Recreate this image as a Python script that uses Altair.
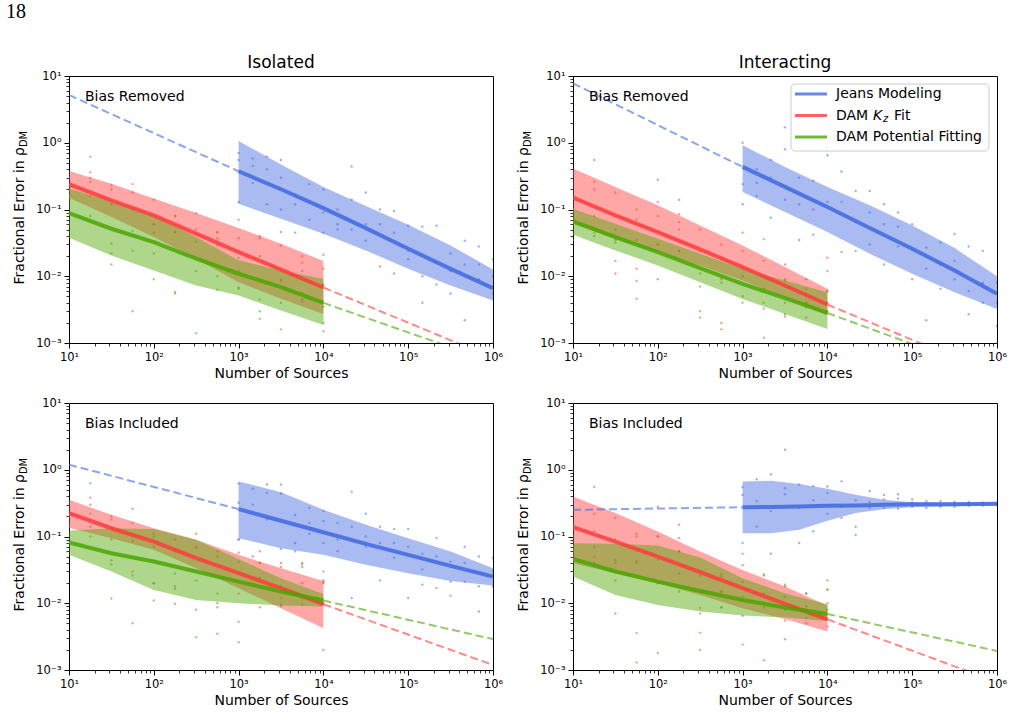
import altair as alt
import pandas as pd

FONT = "DejaVu Sans"
BLUE = "#4169e1"
RED = "#ff3b3b"
GREEN = "#4ba600"

# ---------------- sample grids ----------------
DAM_N = [10, 31.6, 100, 316, 1000, 3162, 10000]
JEANS_N = [1000, 3162, 10000, 31623, 100000, 316228, 1000000]
JEANS_N_BR = [1000, 2154, 4642, 10000, 21544, 46416, 100000, 316228, 1000000]
PT_DAM_N = [10, 17.8, 31.6, 56.2, 100, 178, 316, 562, 1000, 1778, 3162, 5623, 10000]
PT_JEANS_N = [1000, 1468, 2154, 3162, 4642, 6813, 10000, 14678, 21544, 31623,
              46416, 68129, 100000, 146780, 215443, 316228, 464159, 681292, 1000000]
FIT_LEFT_N = [10, 1000]
FIT_RIGHT_N = [10000, 1000000]

X_MAJOR = [10, 100, 1000, 10000, 100000, 1000000]
Y_MAJOR = [0.001, 0.01, 0.1, 1, 10]
X_MINOR = [m * 10 ** k for k in range(1, 6) for m in range(2, 10)]
Y_MINOR = [m * 10.0 ** k for k in range(-3, 1) for m in range(2, 10)]
SUPERSCRIPTS = ["⁻³", "⁻²", "⁻¹", "⁰", "¹", "²", "³", "⁴", "⁵", "⁶"]

# ---------------- Isolated, bias removed ----------------
TL_KZ_MED = [0.239, 0.137, 0.0817, 0.0434, 0.0230, 0.0126, 0.00678]
TL_KZ_HI = [0.378, 0.244, 0.146, 0.0885, 0.0527, 0.0307, 0.0169]
TL_KZ_LO = [0.150, 0.077, 0.0386, 0.0183, 0.0081, 0.0046, 0.00273]
TL_POT_MED = [0.0885, 0.0515, 0.0325, 0.0183, 0.0109, 0.00686, 0.00399]
TL_POT_HI = [0.206, 0.133, 0.0817, 0.0386, 0.0173, 0.0122, 0.00914]
TL_POT_LO = [0.0378, 0.0205, 0.0122, 0.00726, 0.00514, 0.00306, 0.00186]
TL_J_MED = [0.374, 0.201, 0.105, 0.0527, 0.0258, 0.0129, 0.00662]
TL_J_HI = [1.06, 0.471, 0.218, 0.113, 0.0592, 0.029, 0.0126]
TL_J_LO = [0.122, 0.0728, 0.0434, 0.0244, 0.0129, 0.00726, 0.00432]
TL_J_FIT = [5.19, 0.374]
TL_KZ_FIT = [0.00678, 0.00060]
TL_POT_FIT = [0.00399, 0.00052]
TL_KZ_PTS = [[0.58, 0.30, 0.16], [0.36, 0.30, 0.26], [0.23, 0.20, 0.12], [0.24, 0.18, 0.10],
             [0.14, 0.06, 0.045], [0.08, 0.046, 0.0058], [0.087, 0.05, 0.043], [0.046, 0.037, 0.029],
             [0.07, 0.037, 0.0068], [0.04, 0.037, 0.0023], [0.046, 0.029, 0.0085],
             [0.02, 0.016, 0.0045], [0.021, 0.013, 0.0015]]
TL_POT_PTS = [[0.2, 0.15, 0.06], [0.62, 0.16, 0.08], [0.031, 0.022, 0.015], [0.048, 0.024, 0.003],
              [0.06, 0.022, 0.009], [0.08, 0.046, 0.0055], [0.033, 0.012, 0.0014], [0.045, 0.01, 0.0063],
              [0.019, 0.012, 0.0065], [0.02, 0.0045, 0.003], [0.009, 0.004, 0.0016],
              [0.012, 0.0055, 0.0042], [0.0075, 0.0035, 0.002]]
TL_J_PTS = [[0.7, 0.55, 0.13], [0.58, 0.45, 0.25], [0.62, 0.4, 0.12], [0.55, 0.3, 0.1],
            [0.17, 0.12, 0.045], [0.24, 0.13, 0.07], [0.2, 0.09, 0.045], [0.1, 0.06, 0.05],
            [0.44, 0.14, 0.05], [0.18, 0.06, 0.034], [0.1, 0.06, 0.014], [0.095, 0.045, 0.011],
            [0.057, 0.024, 0.018], [0.055, 0.01, 0.004], [0.057, 0.016, 0.0075],
            [0.022, 0.012, 0.0055], [0.034, 0.015, 0.0022], [0.028, 0.015, 0.009],
            [0.018, 0.01, 0.0055]]

# ---------------- Interacting, bias removed ----------------
TR_KZ_MED = [0.151, 0.0817, 0.0459, 0.0252, 0.0137, 0.00726, 0.00377]
TR_KZ_HI = [0.41, 0.218, 0.116, 0.0578, 0.029, 0.0137, 0.00647]
TR_KZ_LO = [0.0612, 0.0365, 0.023, 0.0145, 0.00863, 0.00485, 0.00258]
TR_POT_MED = [0.0664, 0.0386, 0.023, 0.0132, 0.00769, 0.00469, 0.00282]
TR_POT_HI = [0.103, 0.0612, 0.0365, 0.0217, 0.0129, 0.00863, 0.00577]
TR_POT_LO = [0.0419, 0.0244, 0.0145, 0.00815, 0.00458, 0.00273, 0.00162]
TR_J_MED = [0.435, 0.218, 0.109, 0.0527, 0.0258, 0.0122, 0.00545]
TR_J_HI = [0.92, 0.435, 0.218, 0.116, 0.0578, 0.0264, 0.0100]
TR_J_LO = [0.183, 0.0917, 0.0459, 0.0217, 0.0109, 0.00577, 0.00324]
TR_J_FIT = [7.76, 0.435]
TR_KZ_FIT = [0.00377, 0.00033]
TR_POT_FIT = [0.00282, 0.00033]
TR_KZ_PTS = [[0.95, 0.35, 0.1], [0.55, 0.26, 0.2], [0.18, 0.017, 0.011], [0.07, 0.013, 0.0046],
             [0.28, 0.13, 0.03], [0.14, 0.085, 0.024], [0.05, 0.024, 0.0024], [0.03, 0.009, 0.0016],
             [0.045, 0.024, 0.01], [0.036, 0.0065, 0.0033], [0.015, 0.009, 0.0025],
             [0.0065, 0.004, 0.0024], [0.019, 0.006, 0.004]]
TR_POT_PTS = [[0.1, 0.06, 0.035], [0.08, 0.045, 0.04], [0.05, 0.035, 0.032], [0.1, 0.035, 0.0085],
              [0.08, 0.03, 0.009], [0.065, 0.05, 0.024], [0.011, 0.007, 0.003], [0.018, 0.008, 0.002],
              [0.013, 0.005, 0.004], [0.017, 0.004, 0.0012], [0.0085, 0.004, 0.0027],
              [0.009, 0.004, 0.0034], [0.012, 0.006, 0.003]]
TR_J_PTS = [[1.0, 0.24, 0.12], [0.4, 0.25, 0.16], [0.55, 0.3, 0.075], [1.7, 0.8, 0.14],
            [0.3, 0.12, 0.035], [0.27, 0.1, 0.042], [0.85, 0.65, 0.13], [0.37, 0.13, 0.023],
            [0.19, 0.065, 0.024], [0.19, 0.09, 0.03], [0.12, 0.06, 0.015], [0.09, 0.055, 0.028],
            [0.06, 0.025, 0.009], [0.027, 0.013, 0.0022], [0.032, 0.015, 0.0065],
            [0.043, 0.017, 0.009], [0.028, 0.006, 0.0027], [0.024, 0.008, 0.004],
            [0.008, 0.004, 0.0018]]

# ---------------- Isolated, bias included ----------------
BL_KZ_MED = [0.224, 0.133, 0.0841, 0.0473, 0.0282, 0.0168, 0.00966]
BL_KZ_HI = [0.355, 0.211, 0.133, 0.0891, 0.0531, 0.0335, 0.0216]
BL_KZ_LO = [0.135, 0.094, 0.0631, 0.0335, 0.0168, 0.00841, 0.00422]
BL_POT_MED = [0.0813, 0.0562, 0.0422, 0.0299, 0.0211, 0.015, 0.011]
BL_POT_HI = [0.123, 0.133, 0.129, 0.0891, 0.0462, 0.0237, 0.0138]
BL_POT_LO = [0.0531, 0.0299, 0.0158, 0.0112, 0.0100, 0.00923, 0.00891]
BL_J_MED = [0.257, 0.172, 0.116, 0.0776, 0.0531, 0.0363, 0.0251]
BL_J_HI = [0.668, 0.462, 0.251, 0.15, 0.0944, 0.0596, 0.0335]
BL_J_LO = [0.0944, 0.0668, 0.0531, 0.0376, 0.0282, 0.0216, 0.0184]
BL_J_FIT = [1.19, 0.257]
BL_KZ_FIT = [0.00966, 0.00119]
BL_POT_FIT = [0.0110, 0.0029]
BL_KZ_PTS = [[0.6, 0.2, 0.15], [0.38, 0.3, 0.14], [0.2, 0.18, 0.09], [0.26, 0.16, 0.03],
             [0.11, 0.07, 0.02], [0.06, 0.018, 0.0098], [0.11, 0.07, 0.008], [0.06, 0.01, 0.0035],
             [0.09, 0.057, 0.014], [0.06, 0.04, 0.023], [0.04, 0.035, 0.009],
             [0.04, 0.035, 0.02], [0.022, 0.02, 0.002]]
BL_POT_PTS = [[0.2, 0.14, 0.08], [0.63, 0.22, 0.1], [0.044, 0.038, 0.0118], [0.085, 0.026, 0.005],
              [0.1, 0.02, 0.011], [0.09, 0.028, 0.0165], [0.067, 0.022, 0.0031], [0.05, 0.014, 0.0087],
              [0.042, 0.0053, 0.0026], [0.04, 0.024, 0.0087], [0.018, 0.012, 0.0095],
              [0.038, 0.012, 0.0095], [0.03, 0.021, 0.01]]
BL_J_PTS = [[0.62, 0.32, 0.09], [0.52, 0.3, 0.05], [0.6, 0.45, 0.18], [0.6, 0.44, 0.065],
            [0.21, 0.08, 0.06], [0.27, 0.16, 0.11], [0.24, 0.17, 0.08], [0.16, 0.09, 0.06],
            [0.47, 0.14, 0.012], [0.22, 0.1, 0.07], [0.14, 0.08, 0.022], [0.13, 0.08, 0.048],
            [0.13, 0.07, 0.012], [0.055, 0.032, 0.019], [0.095, 0.05, 0.017],
            [0.042, 0.021, 0.013], [0.07, 0.04, 0.021], [0.05, 0.018, 0.0075],
            [0.048, 0.03, 0.018]]

# ---------------- Interacting, bias included ----------------
BR_KZ_MED = [0.138, 0.0841, 0.0501, 0.0292, 0.0168, 0.00977, 0.00575]
BR_KZ_HI = [0.398, 0.224, 0.119, 0.0596, 0.0316, 0.0178, 0.00923]
BR_KZ_LO = [0.0398, 0.0282, 0.020, 0.0133, 0.00841, 0.00582, 0.00376]
BR_POT_MED = [0.0462, 0.0299, 0.0211, 0.0153, 0.0112, 0.00861, 0.00692]
BR_POT_HI = [0.0794, 0.0776, 0.0733, 0.0484, 0.0237, 0.0141, 0.00966]
BR_POT_LO = [0.0251, 0.0133, 0.00944, 0.0075, 0.00653, 0.0061, 0.00543]
BR_J_MED = [0.275, 0.277, 0.282, 0.288, 0.291, 0.299, 0.305, 0.305, 0.309]
BR_J_HI = [0.668, 0.684, 0.61, 0.519, 0.422, 0.355, 0.327, 0.324, 0.327]
BR_J_LO = [0.112, 0.112, 0.126, 0.172, 0.224, 0.257, 0.275, 0.285, 0.288]
BR_J_FIT = [0.251, 0.275]
BR_KZ_FIT = [0.00575, 0.00066]
BR_POT_FIT = [0.00692, 0.00193]
BR_KZ_PTS = [[0.95, 0.55, 0.15], [0.55, 0.22, 0.05], [0.19, 0.04, 0.007], [0.1, 0.04, 0.0036],
             [0.28, 0.1, 0.02], [0.15, 0.095, 0.06], [0.03, 0.007, 0.0036], [0.025, 0.015, 0.0087],
             [0.055, 0.037, 0.0065], [0.026, 0.01, 0.0014], [0.018, 0.0055, 0.0029],
             [0.014, 0.008, 0.005], [0.016, 0.01, 0.0045]]
BR_POT_PTS = [[0.1, 0.06, 0.02], [0.12, 0.07, 0.04], [0.09, 0.044, 0.022], [0.11, 0.043, 0.0013],
              [0.1, 0.045, 0.0018], [0.06, 0.028, 0.015], [0.026, 0.0085, 0.002], [0.027, 0.015, 0.0086],
              [0.021, 0.0125, 0.0024], [0.027, 0.014, 0.0087], [0.019, 0.0125, 0.008],
              [0.014, 0.009, 0.006], [0.022, 0.016, 0.008]]
BR_J_PTS = [[0.55, 0.42, 0.08], [0.72, 0.34, 0.14], [0.85, 0.24, 0.055], [2.0, 0.53, 0.43],
            [0.6, 0.27, 0.08], [0.57, 0.35, 0.12], [0.56, 0.45, 0.22], [0.67, 0.28, 0.19],
            [0.35, 0.14, 0.105], [0.48, 0.33, 0.27], [0.42, 0.36, 0.27], [0.43, 0.37, 0.26],
            [0.36, 0.32, 0.28], [0.34, 0.31, 0.27], [0.34, 0.3, 0.28], [0.33, 0.31, 0.28],
            [0.33, 0.31, 0.29], [0.32, 0.31, 0.29], [0.32, 0.31, 0.295]]

# ---------------- helpers ----------------
XS = alt.Scale(type="log", domain=[10, 1e6], nice=False)
YS = alt.Scale(type="log", domain=[1e-3, 10], nice=False)
SUP_EXPR = "'10' + " + str(SUPERSCRIPTS).replace('"', "'") + "[round(log(datum.value)/LN10)+3]"

AX_MAJOR_X = alt.Axis(values=X_MAJOR, labelExpr=SUP_EXPR, title="Number of Sources", orient="bottom",
                      tickSize=5, tickWidth=1, tickColor="black", labelPadding=3, labelFontSize=11.5,
                      labelFont=FONT, labelColor="black", labelFlush=False, labelOverlap=False,
                      titleFont=FONT, titleFontSize=14, titleFontWeight="normal", titleColor="black",
                      titlePadding=4, domain=False, grid=False)
AX_MAJOR_Y = alt.Axis(values=Y_MAJOR, labelExpr=SUP_EXPR, title=None, orient="left",
                      tickSize=5, tickWidth=1, tickColor="black", labelPadding=3, labelFontSize=11.5,
                      labelFont=FONT, labelColor="black", labelFlush=False, labelOverlap=False,
                      labelBaseline="middle", domain=False, grid=False)
AX_MINOR_X = alt.Axis(values=X_MINOR, labels=False, title=None, orient="bottom", tickSize=3,
                      tickWidth=0.8, tickColor="black", domain=False, grid=False)
AX_MINOR_Y = alt.Axis(values=Y_MINOR, labels=False, title=None, orient="left", tickSize=3,
                      tickWidth=0.8, tickColor="black", domain=False, grid=False)

ONE = pd.DataFrame({"k": [0]})


def pts_df(ns, pts):
    return pd.DataFrame([{"n": n, "v": v} for n, vs in zip(ns, pts) for v in vs])


def text(t, x, y, size=14, align="left", baseline="middle", angle=0, style="normal", font=FONT):
    kw = dict(align=align, baseline=baseline, fontSize=size, font=font, color="black",
              fontStyle=style)
    if angle:
        kw["angle"] = angle
    return alt.Chart(ONE).mark_text(**kw).encode(
        x=alt.value(x), y=alt.value(y), text=alt.value(t))


def panel(p, label, title=None, legend=False):
    layers = []
    # scatter points (carry the minor-tick axes)
    for i, (key, color, ns) in enumerate((("kz", RED, PT_DAM_N), ("pot", GREEN, PT_DAM_N),
                                          ("j", BLUE, PT_JEANS_N))):
        ax_x = AX_MINOR_X if i == 0 else None
        ax_y = AX_MINOR_Y if i == 0 else None
        layers.append(alt.Chart(pts_df(ns, p[key + "_pts"])).mark_circle(
            size=6, opacity=0.5, color=color, clip=True).encode(
            x=alt.X("n:Q", scale=XS, axis=ax_x), y=alt.Y("v:Q", scale=YS, axis=ax_y)))
    # bands
    for i, (key, color, ns) in enumerate((("kz", RED, DAM_N), ("pot", GREEN, DAM_N),
                                          ("j", BLUE, p.get("j_n", JEANS_N)))):
        df = pd.DataFrame({"n": ns, "lo": p[key + "_lo"], "hi": p[key + "_hi"]})
        ax_x = AX_MAJOR_X if i == 0 else None
        ax_y = AX_MAJOR_Y if i == 0 else None
        layers.append(alt.Chart(df).mark_area(color=color, opacity=0.45, clip=True).encode(
            x=alt.X("n:Q", scale=XS, axis=ax_x), y=alt.Y("hi:Q", scale=YS, axis=ax_y),
            y2=alt.Y2("lo:Q")))
    # dashed power-law fits
    for key, color, ns in (("j", BLUE, FIT_LEFT_N), ("kz", RED, FIT_RIGHT_N),
                           ("pot", GREEN, FIT_RIGHT_N)):
        df = pd.DataFrame({"n": ns, "v": p[key + "_fit"]})
        layers.append(alt.Chart(df).mark_line(color=color, opacity=0.6, strokeWidth=2,
                                              strokeDash=[8, 4], clip=True).encode(
            x=alt.X("n:Q", scale=XS, axis=None), y=alt.Y("v:Q", scale=YS, axis=None)))
    # medians
    for key, color, ns in (("kz", RED, DAM_N), ("pot", GREEN, DAM_N),
                           ("j", BLUE, p.get("j_n", JEANS_N))):
        df = pd.DataFrame({"n": ns, "v": p[key + "_med"]})
        layers.append(alt.Chart(df).mark_line(color=color, opacity=0.85, strokeWidth=4,
                                              clip=True).encode(
            x=alt.X("n:Q", scale=XS, axis=None), y=alt.Y("v:Q", scale=YS, axis=None)))
    # annotations
    layers.append(text(label, 16, 21))
    layers.append(text("Fractional Error in ρ", -45.5, 71, align="right", baseline="alphabetic",
                       angle=270))
    layers.append(text("DM", -42.5, 71, size=9.8, align="left", baseline="alphabetic", angle=270))
    if legend:
        layers.append(alt.Chart(ONE).mark_rect(cornerRadius=4, fill="white", fillOpacity=0.8,
                                               stroke="#cccccc", strokeWidth=1).encode(
            x=alt.value(218), x2=alt.value(416), y=alt.value(8), y2=alt.value(75)))
        for yy, color in ((18, BLUE), (39.5, RED), (61, GREEN)):
            layers.append(alt.Chart(ONE).mark_rule(color=color, opacity=0.8, strokeWidth=3).encode(
                x=alt.value(222), x2=alt.value(254), y=alt.value(yy)))
        layers.append(text("Jeans Modeling", 263, 18))
        layers.append(text("DAM", 263, 39.5))
        layers.append(text("K", 300, 39.5, style="italic"))
        layers.append(text("z", 310, 42.5, size=9.8, style="italic"))
        layers.append(text("Fit", 321, 39.5))
        layers.append(text("DAM Potential Fitting", 263, 61))
    ch = alt.layer(*layers).resolve_axis(x="independent", y="independent")
    props = dict(width=424, height=267)
    if title:
        props["title"] = alt.TitleParams(title, fontSize=17, font=FONT, fontWeight="normal",
                                         color="black", anchor="middle", offset=-2)
    return ch.properties(**props)


def pack(prefix, j_n=None):
    g = globals()
    p = {}
    for key in ("kz", "pot", "j"):
        tag = {"kz": "KZ", "pot": "POT", "j": "J"}[key]
        for part in ("med", "hi", "lo", "fit", "pts"):
            p[key + "_" + part] = g[f"{prefix}_{tag}_{part.upper()}"]
    if j_n is not None:
        p["j_n"] = j_n
    return p


tl = panel(pack("TL"), "Bias Removed", title="Isolated")
tr = panel(pack("TR"), "Bias Removed", title="Interacting", legend=True)
bl = panel(pack("BL"), "Bias Included")
br = panel(pack("BR", JEANS_N_BR), "Bias Included")

chart = alt.concat(tl, tr, bl, br, columns=2, spacing={"row": 15, "column": 12}).properties(
    title=alt.TitleParams("18", anchor="start", font="Liberation Serif", fontSize=20,
                          fontWeight="normal", color="black", offset=32, dx=-6),
    padding={"left": 6, "top": 1, "right": 0, "bottom": 0},
    background="white",
).configure_view(stroke="black", strokeWidth=1)

chart.save("out.html", embed_options={"renderer": "svg", "actions": False})
